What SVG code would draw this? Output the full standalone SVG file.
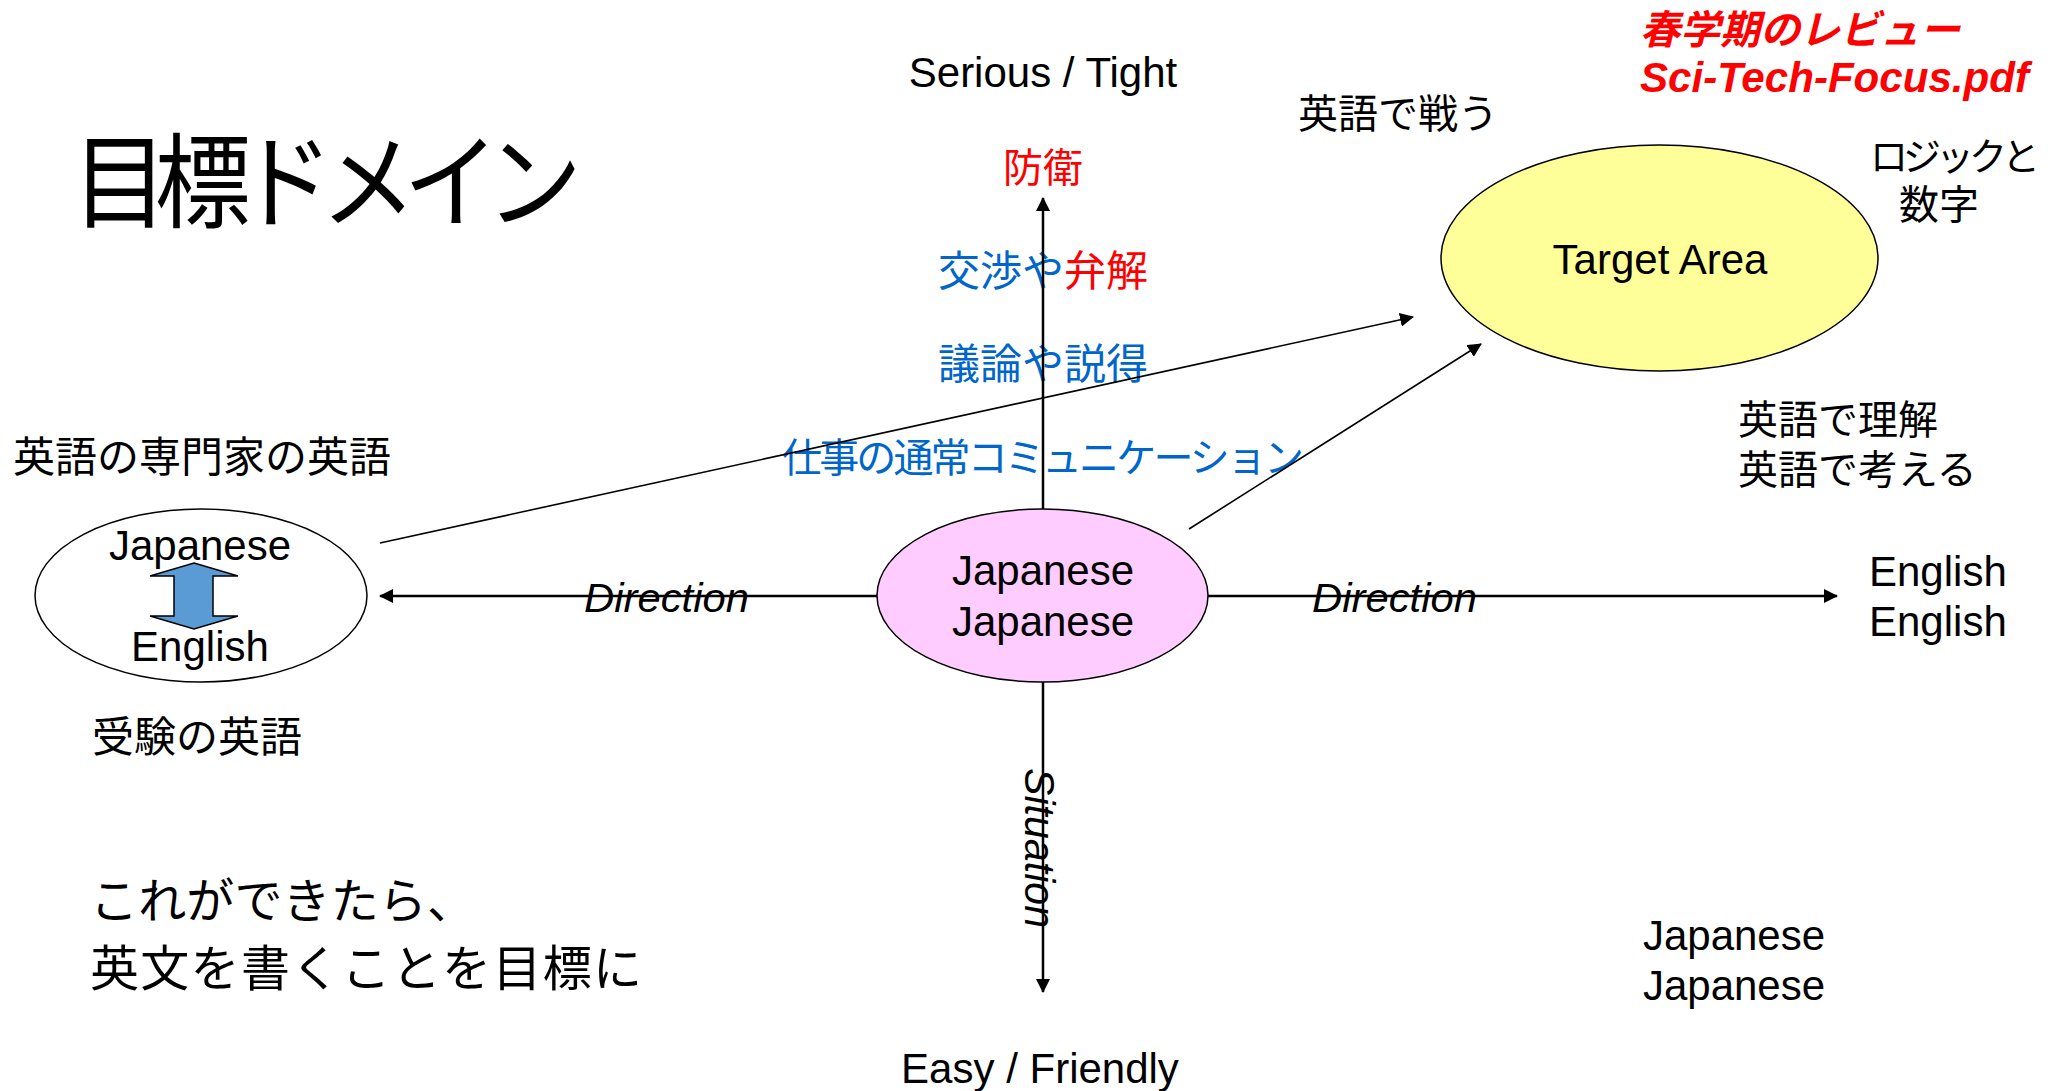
<svg xmlns="http://www.w3.org/2000/svg" width="2062" height="1091" viewBox="0 0 2062 1091">
<style>
.jp{font-family:"Noto Sans CJK JP","Noto Sans",sans-serif;}
.en{font-family:"Liberation Sans",Arial,sans-serif;}
.k{fill:#000;}
.b{fill:#0066CC;}
.r{fill:#FF0000;}
.axis{stroke:#000;stroke-width:2.5;fill:none;}
.thin{stroke:#000;stroke-width:1.6;fill:none;}
.node{stroke:#000;stroke-width:1.5;}
</style>
<defs>
<marker id="ah" viewBox="0 0 14 14" refX="13" refY="7" markerWidth="14" markerHeight="14" markerUnits="userSpaceOnUse" orient="auto">
<path d="M0,0 L14,7 L0,14 z" fill="#000"/>
</marker>
</defs>
<rect width="2062" height="1091" fill="#fff"/>

<!-- free texts -->
<text class="jp k" transform="translate(72,220) scale(1,1.08)" font-size="96" textLength="510" lengthAdjust="spacing">目標ドメイン</text>
<text class="en k" x="1043" y="87" font-size="42" text-anchor="middle">Serious / Tight</text>
<text class="en k" x="1040" y="1083" font-size="42" text-anchor="middle">Easy / Friendly</text>
<text class="jp r" x="1003" y="182" font-size="40">防衛</text>
<text class="jp" x="938" y="286" font-size="42"><tspan class="b">交渉や</tspan><tspan class="r">弁解</tspan></text>
<text class="jp b" x="938" y="379" font-size="42">議論や説得</text>
<text class="jp b" x="782" y="472" font-size="40" textLength="522" lengthAdjust="spacing">仕事の通常コミュニケーション</text>
<text class="jp k" x="13" y="472" font-size="42">英語の専門家の英語</text>
<text class="jp k" x="92" y="752" font-size="42">受験の英語</text>
<text class="jp k" x="90" y="918" font-size="48" textLength="385" lengthAdjust="spacing">これができたら、</text>
<text class="jp k" x="90" y="986" font-size="49" textLength="552" lengthAdjust="spacing">英文を書くことを目標に</text>
<text class="jp k" x="1298" y="128" font-size="40">英語で戦う</text>
<text class="jp r" x="1640" y="44" font-size="40" font-weight="bold" font-style="italic" textLength="320" lengthAdjust="spacing">春学期のレビュー</text>
<text class="en r" x="1640" y="92" font-size="42" font-weight="bold" font-style="italic" textLength="389" lengthAdjust="spacingAndGlyphs">Sci-Tech-Focus.pdf</text>
<text class="jp k" x="1870" y="170" font-size="38" textLength="170" lengthAdjust="spacing">ロジックと</text>
<text class="jp k" x="1899" y="219" font-size="40">数字</text>
<text class="jp k" x="1738" y="434" font-size="40">英語で理解</text>
<text class="jp k" x="1738" y="484" font-size="40">英語で考える</text>
<text class="en k" x="1869" y="586" font-size="42">English</text>
<text class="en k" x="1869" y="636" font-size="42">English</text>
<text class="en k" x="1734" y="950" font-size="42" text-anchor="middle">Japanese</text>
<text class="en k" x="1734" y="1000" font-size="42" text-anchor="middle">Japanese</text>

<!-- connectors -->
<g id="connectors">
<line class="axis" x1="877" y1="596" x2="380" y2="596" marker-end="url(#ah)"/>
<line class="axis" x1="1208" y1="596" x2="1837" y2="596" marker-end="url(#ah)"/>
<line class="axis" x1="1043" y1="509" x2="1043" y2="198" marker-end="url(#ah)"/>
<line class="axis" x1="1043" y1="682" x2="1043" y2="992" marker-end="url(#ah)"/>
<line class="thin" x1="380" y1="543" x2="1413" y2="317" marker-end="url(#ah)"/>
<line class="thin" x1="1189" y1="529" x2="1481" y2="344" marker-end="url(#ah)"/>
<text class="en k" x="584" y="612" font-size="41" font-style="italic" textLength="165" lengthAdjust="spacingAndGlyphs">Direction</text>
<text class="en k" x="1312" y="612" font-size="41" font-style="italic" textLength="165" lengthAdjust="spacingAndGlyphs">Direction</text>
<text class="en k" transform="translate(1025,768) rotate(90)" font-size="42" font-style="italic" textLength="160" lengthAdjust="spacingAndGlyphs">Situation</text>
</g>

<g id="node-left">
<ellipse class="node" cx="201" cy="595.5" rx="166" ry="86.5" fill="#fff"/>
<polygon points="194,563 238,576 213,576 213,616 238,616 194,629 150,616 174,616 174,576 150,576" fill="#5B9BD5" stroke="#000" stroke-width="1.5"/>
<text class="en k" x="200" y="560" font-size="42" text-anchor="middle">Japanese</text>
<text class="en k" x="200" y="661" font-size="42" text-anchor="middle">English</text>
</g>

<g id="node-center">
<ellipse class="node" cx="1042.5" cy="595.5" rx="165.5" ry="86.5" fill="#FFCCFF"/>
<text class="en k" x="1043" y="585" font-size="42" text-anchor="middle">Japanese</text>
<text class="en k" x="1043" y="636" font-size="42" text-anchor="middle">Japanese</text>
</g>

<g id="node-target">
<ellipse class="node" cx="1659.5" cy="258" rx="218.5" ry="113" fill="#FFFF99"/>
<text class="en k" x="1660" y="274" font-size="42" text-anchor="middle">Target Area</text>
</g>
</svg>
